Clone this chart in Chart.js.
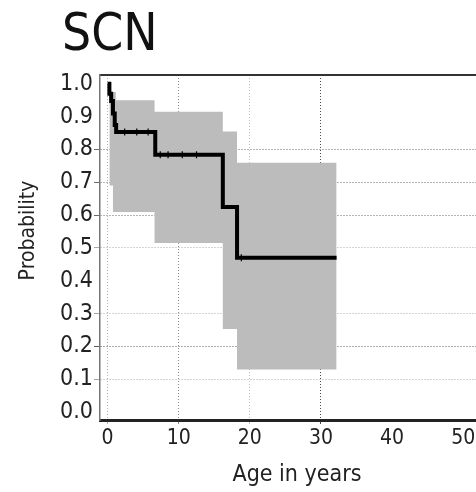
<!DOCTYPE html>
<html><head><meta charset="utf-8">
<script src="https://cdn.jsdelivr.net/npm/chart.js@4.4.1/dist/chart.umd.min.js"></script>
<style>html,body{margin:0;padding:0;background:#fff;}#wrap{width:476px;height:492px;position:relative;}</style>
</head><body><div id="wrap"><canvas id="c" width="476" height="492"></canvas></div>
<script>
// ---- data ----
const chartTitle = 'SCN';
const xTitle = 'Age in years';
const yTitle = 'Probability';
const kmTimes = [0, 0.25, 0.5, 0.75, 1.0, 1.2, 6.7, 16.2, 18.2, 32.2];
const kmProb  = [1.0, 0.97, 0.948, 0.91, 0.875, 0.853, 0.784, 0.625, 0.47, 0.47];
const ciTimes = [0.25, 0.75, 1.15, 6.6, 16.2, 18.2, 32.2];
const ciUpper = [0.975, 0.975, 0.95, 0.915, 0.855, 0.76, 0.76];
const ciLower = [0.69, 0.61, 0.61, 0.515, 0.253, 0.13, 0.13];
const censorTimes = [2.4, 4.1, 5.7, 7.4, 8.5, 10.5, 12.5, 18.8];
const censorProb  = [0.853, 0.853, 0.853, 0.784, 0.784, 0.784, 0.784, 0.47];
const xTicks = [0, 10, 20, 30, 40, 50];
const yTicks = [0, 0.1, 0.2, 0.3, 0.4, 0.5, 0.6, 0.7, 0.8, 0.9, 1.0];

// ---- styles ----
const FONT = '"Liberation Sans Narrow", "Arial Narrow", "DejaVu Sans Condensed", sans-serif';
const xGridColors = {0: '#b0b0b0', 10: '#8a8a8a', 20: '#c0c0c0', 30: '#4a4a4a'};
const yGridColors = {0.1: '#a8a8a8', 0.2: '#5a5a5a', 0.3: '#a8a8a8', 0.5: '#a8a8a8', 0.6: '#6a6a6a', 0.7: '#6a6a6a', 0.8: '#6a6a6a'};
const keyOf = v => Math.round(v * 10) / 10;

const pts = (xs, ys) => xs.map((x, i) => ({x: x, y: ys[i]}));

const shiftPlugin = {
  id: 'shiftPlugin',
  afterLayout(chart) {
    if (chart.titleBlock) chart.titleBlock.left = 62;
    const wrap = (scale, dx, dy) => {
      if (!scale || scale._wrapped) return;
      const orig = scale.drawTitle;
      scale.drawTitle = function () {
        this.ctx.save(); this.ctx.translate(dx, dy); orig.call(this); this.ctx.restore();
      };
      scale._wrapped = true;
    };
    wrap(chart.scales.y, 0, -17);
    wrap(chart.scales.x, 9, 0);
  }
};

const noPad = s => { s.paddingLeft = 0; s.paddingRight = 0; s.paddingTop = 0; s.paddingBottom = 0; };

new Chart(document.getElementById('c'), {
  type: 'line',
  data: {
    datasets: [
      {
        label: 'Censored', data: pts(censorTimes, censorProb), showLine: false,
        pointStyle: 'line', rotation: 90, pointRadius: 3.5, pointHoverRadius: 3.5,
        borderColor: '#000', borderWidth: 1.2, backgroundColor: '#000'
      },
      {
        label: 'Survival', data: pts(kmTimes, kmProb), stepped: true,
        borderColor: '#000', borderWidth: 4, pointRadius: 0, fill: false,
        borderJoinStyle: 'miter', borderCapStyle: 'butt'
      },
      {
        label: 'Upper CI', data: pts(ciTimes, ciUpper), stepped: true,
        borderWidth: 0, borderColor: 'rgba(0,0,0,0)', pointRadius: 0,
        fill: '+1', backgroundColor: '#bcbcbc'
      },
      {
        label: 'Lower CI', data: pts(ciTimes, ciLower), stepped: true,
        borderWidth: 0, borderColor: 'rgba(0,0,0,0)', pointRadius: 0, fill: false
      }
    ]
  },
  options: {
    responsive: false, animation: false, devicePixelRatio: 1,
    layout: {padding: 0, autoPadding: false},
    plugins: {
      legend: {display: false}, tooltip: {enabled: false},
      title: {
        display: true, text: chartTitle, align: 'start', color: '#111',
        font: {family: FONT, size: 51, weight: 'normal', lineHeight: 1},
        padding: {top: 11, bottom: 13}
      }
    },
    scales: {
      x: {
        type: 'linear', position: 'bottom', min: -1.07, max: 51.8,
        afterBuildTicks: s => { s.ticks = xTicks.map(v => ({value: v})); },
        afterFit: s => { s.height = 72; noPad(s); },
        ticks: {
          color: '#222', padding: 2, maxRotation: 0,
          font: {family: FONT, size: 21},
          callback: v => String(v)
        },
        grid: {
          color: c => xGridColors[c.tick && c.tick.value] || 'rgba(0,0,0,0)',
          tickColor: c => xGridColors[c.tick && c.tick.value] || 'rgba(0,0,0,0)',
          lineWidth: 1, tickLength: 4, drawTicks: true
        },
        border: {display: true, color: '#222', width: 3, dash: [1, 2]},
        title: {
          display: true, text: xTitle, color: '#222',
          font: {family: FONT, size: 23, lineHeight: 1.2}, padding: {top: 0, bottom: 3}
        }
      },
      x2: {
        type: 'linear', position: 'top', min: -1.07, max: 51.8,
        afterFit: s => { s.height = 0; noPad(s); },
        ticks: {display: false},
        grid: {display: false, drawTicks: false},
        border: {display: true, color: '#333', width: 2}
      },
      y: {
        type: 'linear', position: 'left', min: -0.024, max: 1.027,
        afterBuildTicks: s => { s.ticks = yTicks.map(v => ({value: v})); },
        afterFit: s => { s.width = 100; noPad(s); },
        ticks: {
          color: '#222', padding: 1,
          font: {family: FONT, size: 23},
          callback: v => Number(v).toFixed(1)
        },
        grid: {
          color: c => yGridColors[c.tick && keyOf(c.tick.value)] || 'rgba(0,0,0,0)',
          tickColor: c => yGridColors[c.tick && keyOf(c.tick.value)] || 'rgba(0,0,0,0)',
          lineWidth: 1, tickLength: 6, drawTicks: true
        },
        border: {display: true, color: '#777', width: 1.5, dash: [1, 2]},
        title: {
          display: true, text: yTitle, color: '#222',
          font: {family: FONT, size: 21, lineHeight: 1.2}, padding: {top: 16, bottom: 0}
        }
      }
    }
  },
  plugins: [shiftPlugin]
});
</script>
</body></html>
